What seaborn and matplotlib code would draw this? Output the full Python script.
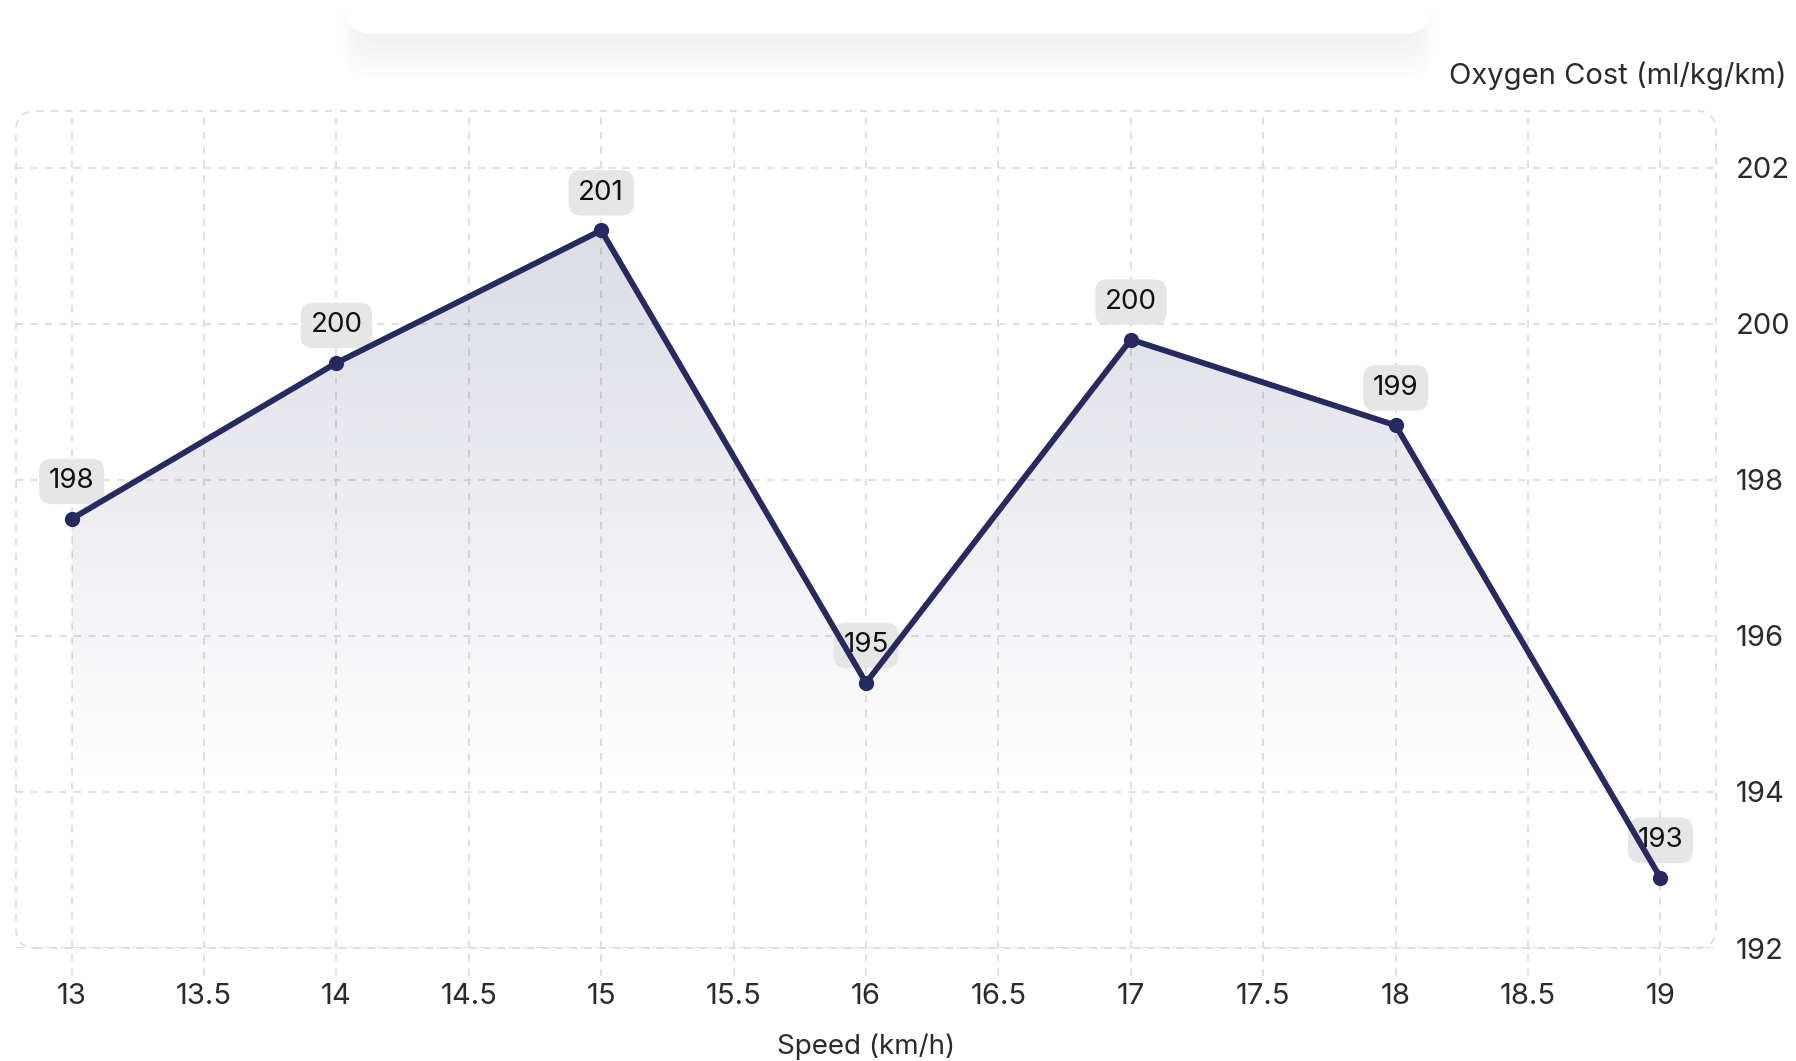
import numpy as np
import pandas as pd
import seaborn as sns
import matplotlib.pyplot as plt
from matplotlib.patches import FancyBboxPatch

speeds = [13, 14, 15, 16, 17, 18, 19]
oxygen_cost = [197.5, 199.5, 201.2, 195.4, 199.8, 198.7, 192.9]
point_labels = ["198", "200", "201", "195", "200", "199", "193"]
x_ticks = [13, 13.5, 14, 14.5, 15, 15.5, 16, 16.5, 17, 17.5, 18, 18.5, 19]
y_ticks = [192, 194, 196, 198, 200, 202]

line_color = "#272a5f"
grid_color = "#dcdcdc"
text_color = "#2b2b2b"

sns.set_theme(style="white")
plt.rcParams['font.family'] = ['Inter', 'DejaVu Sans']

W, H = 17.96, 10.61
fig = plt.figure(figsize=(W, H), dpi=100)
ax = fig.add_axes([0.0089, 0.1065, 0.9466, 0.7889])

df = pd.DataFrame({"speed": speeds, "cost": oxygen_cost})

xlim = (12.79, 19.21)
ylim = (192, 202.73)

# gradient fill under the line
poly = ax.fill_between(speeds, oxygen_cost, ylim[0], color="none", lw=0)
n = 256
yy = np.linspace(ylim[1], ylim[0], n)
alpha = 0.2 * np.clip((yy - 194.0) / (ylim[1] - 194.0), 0, 1)
rgb = np.array([39, 42, 95]) / 255
rgba = np.zeros((n, 1, 4))
rgba[:, 0, :3] = rgb
rgba[:, 0, 3] = alpha
img = ax.imshow(rgba, extent=[speeds[0], speeds[-1], ylim[0], ylim[1]],
                aspect="auto", origin="upper", zorder=1, interpolation="bilinear")
img.set_clip_path(poly.get_paths()[0], transform=ax.transData)

# labels (drawn under the line, as in the original)
for x, y, lab in zip(speeds, oxygen_cost, point_labels):
    ax.annotate(lab, (x, y), xytext=(0, 27), textcoords="offset points",
                ha="center", va="center", fontsize=20, color="#111111", zorder=3,
                bbox=dict(boxstyle="round,pad=0.35,rounding_size=0.45",
                          fc="#e4e4e4", ec="none", alpha=0.9))

sns.lineplot(data=df, x="speed", y="cost", color=line_color, lw=4.2, marker="o",
             markersize=11, markeredgewidth=0, ax=ax, zorder=5)

ax.set_xlim(*xlim)
ax.set_ylim(*ylim)
ax.set_xticks(x_ticks)
ax.set_xticklabels([f"{t:g}" for t in x_ticks])
ax.set_yticks(y_ticks)
ax.grid(True, ls=(0, (4, 4)), color=grid_color, lw=1.3)
for s in ax.spines.values():
    s.set_visible(False)

ax.yaxis.tick_right()
ax.tick_params(axis="y", length=0, pad=14, labelsize=21, labelcolor=text_color)
ax.tick_params(axis="x", length=0, pad=25, labelsize=21, labelcolor=text_color)
ax.vlines(x_ticks, -0.034, 0, transform=ax.get_xaxis_transform(), clip_on=False,
          colors=grid_color, lw=1.3, ls=(0, (4, 4)))

ax.set_xlabel("Speed (km/h)", fontsize=20, color=text_color, labelpad=17)
ax.set_ylabel("")
fig.text(0.995, 0.929, "Oxygen Cost (ml/kg/km)", ha="right", va="center",
         fontsize=21, color=text_color)

# rounded dashed frame around plot area
pos = ax.get_position()
frame = FancyBboxPatch((pos.x0 * W, pos.y0 * H), pos.width * W, pos.height * H,
                       boxstyle="round,pad=0,rounding_size=0.2",
                       transform=fig.dpi_scale_trans, fill=False,
                       ec=grid_color, lw=1.3, ls=(0, (4, 4)))
fig.add_artist(frame)

# cut-off card at the top with a soft shadow
cx0, cx1, cy0 = 344 / 100, 1432 / 100, H - 34 / 100
for i in range(14):
    g = i * 0.03
    sh = FancyBboxPatch((cx0 + 0.1 - g * 0.3, cy0 - 0.08 - g), (cx1 - cx0) - 0.2 + g * 0.6, 1.0,
                        boxstyle="round,pad=0,rounding_size=0.3",
                        transform=fig.dpi_scale_trans, fc="#000000", ec="none",
                        alpha=0.005)
    fig.add_artist(sh)
card = FancyBboxPatch((cx0, cy0), cx1 - cx0, 1.0, boxstyle="round,pad=0,rounding_size=0.3",
                      transform=fig.dpi_scale_trans, fc="white", ec="none")
fig.add_artist(card)

fig.savefig("out.png", dpi=100, facecolor="white")
